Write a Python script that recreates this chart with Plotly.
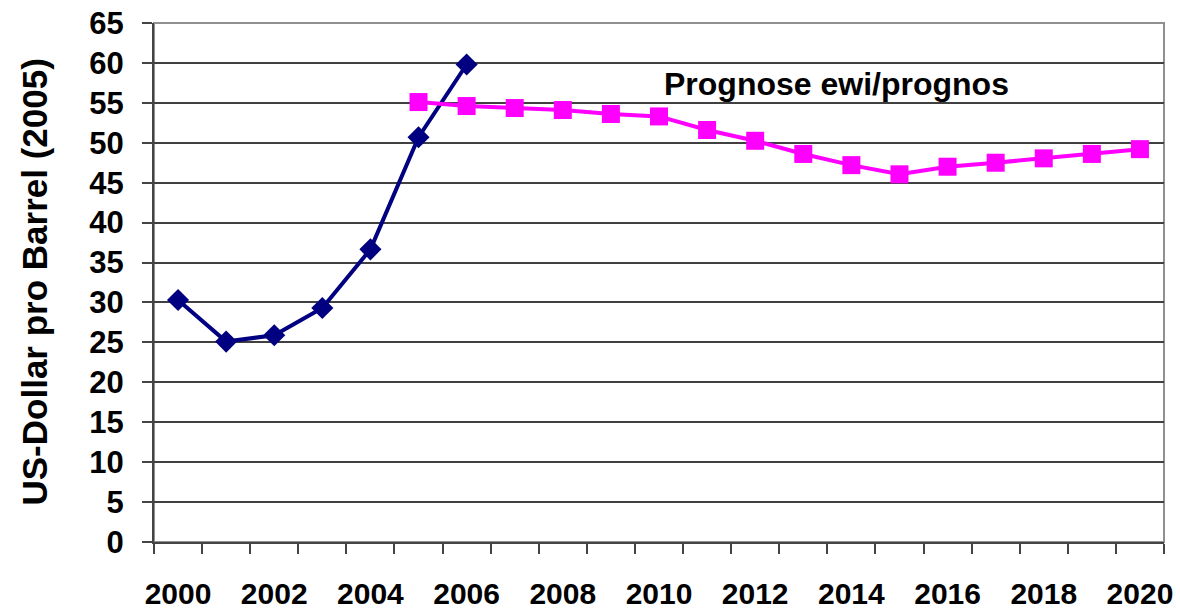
import plotly.graph_objects as go

# historical oil price (US-Dollar per barrel, 2005 prices)
hist_years = [2000, 2001, 2002, 2003, 2004, 2005, 2006]
hist_price = [30.3, 25.1, 25.9, 29.3, 36.65, 50.7, 59.8]

# forecast ewi/prognos
prog_years = [2005, 2006, 2007, 2008, 2009, 2010, 2011, 2012, 2013, 2014,
              2015, 2016, 2017, 2018, 2019, 2020]
prog_price = [55.1, 54.6, 54.35, 54.1, 53.6, 53.3, 51.6, 50.25, 48.6, 47.2,
              46.05, 47.0, 47.5, 48.05, 48.6, 49.2]

label_years = list(range(2000, 2021, 2))
boundaries = [y - 0.5 for y in range(2000, 2022)]

FONT = "Liberation Sans, Arial, sans-serif"

W, H = 1180, 611
ML, MR, MT, MB = 154, 16, 23, 69

fig = go.Figure()
fig.add_trace(go.Scatter(x=hist_years, y=hist_price, mode="lines+markers",
                         line=dict(color="#000080", width=4),
                         marker=dict(symbol="diamond", size=17, color="#000080"),
                         name="Ist"))
fig.add_trace(go.Scatter(x=prog_years, y=prog_price, mode="lines+markers",
                         line=dict(color="#FF00FF", width=4),
                         marker=dict(symbol="square", size=18, color="#FF00FF"),
                         name="Prognose"))

fig.add_annotation(x=2013.7, y=57.3, xref="x", yref="y", text="Prognose ewi/prognos",
                   showarrow=False, font=dict(family=FONT, size=32, color="black", weight="bold"))

# y axis title as rotated text left of the tick labels
plot_w = W - ML - MR
fig.add_annotation(x=(34 - ML) / plot_w, y=0.5, xref="paper", yref="paper",
                   xanchor="center", yanchor="middle",
                   text="US-Dollar pro Barrel (2005)", textangle=-90, showarrow=False,
                   font=dict(family=FONT, size=35, color="black", weight="bold"))

# plot area frame (Excel-style gray border)
fig.add_shape(type="rect", xref="paper", yref="paper", x0=0, x1=1, y0=0, y1=1,
              line=dict(color="#909090", width=2), layer="below")

fig.update_xaxes(range=[1999.5, 2020.5], tickmode="array", tickvals=label_years,
                 ticks="", showgrid=False, zeroline=False, automargin=False,
                 ticklabeloverflow="allow",
                 showline=True, linecolor="#444444", linewidth=2, ticklabelstandoff=24,
                 tickfont=dict(family=FONT, size=30, color="black", weight="bold"),
                 minor=dict(tickmode="array", tickvals=boundaries, ticks="outside",
                            ticklen=10, tickwidth=2, tickcolor="#444444", showgrid=False))
fig.update_yaxes(range=[0, 65], dtick=5, tick0=0, ticks="outside", ticklen=10, tickwidth=1.5,
                 tickcolor="#444444", showgrid=True, gridcolor="#404040", gridwidth=1.5,
                 zeroline=False, showline=True, linecolor="#444444", linewidth=2,
                 automargin=False, ticklabelstandoff=12, ticklabeloverflow="allow",
                 tickfont=dict(family=FONT, size=31, color="black", weight="bold"))

fig.update_layout(width=W, height=H, autosize=False,
                  margin=dict(l=ML, r=MR, t=MT, b=MB),
                  plot_bgcolor="white", paper_bgcolor="white",
                  showlegend=False)

# drop the default 8px page margin so the figure fills the window exactly
fig.write_html("out.html", config={"displayModeBar": False},
               post_script="document.body.style.margin='0';")
